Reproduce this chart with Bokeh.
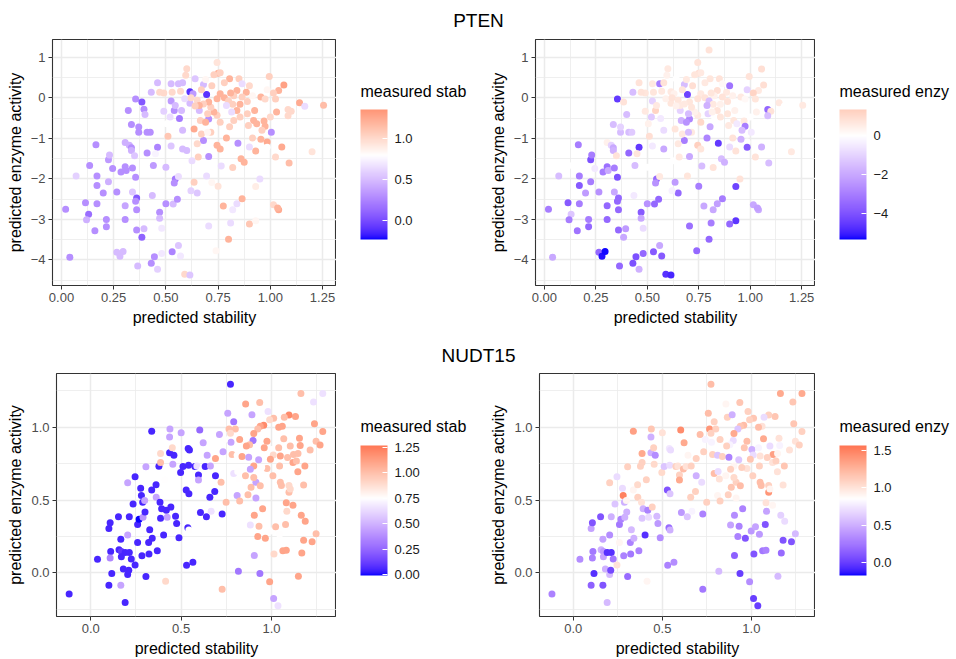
from bokeh.plotting import figure
from bokeh.models import (ColumnDataSource, LinearColorMapper, ColorBar, FixedTicker, Range1d)
from bokeh.layouts import column, row
from bokeh.embed import file_html
from bokeh.resources import INLINE
from bokeh.core.properties import value

FONT = "Liberation Sans"

gene_titles = ["PTEN", "NUDT15"]
x_label = "predicted stability"
y_label = "predicted enzyme activity"
stab_title = "measured stab"
enz_title = "measured enzy"

# ---------------- PTEN ----------------
pten_pred_stab = [
    0.02, 0.04, 0.07, 0.115, 0.13, 0.12, 0.135, 0.165, 0.17, 0.17,
    0.17, 0.16, 0.20, 0.215, 0.215, 0.225, 0.225, 0.23, 0.245, 0.265,
    0.265, 0.28, 0.295, 0.285, 0.305, 0.305, 0.31, 0.305, 0.305, 0.32,
    0.325, 0.335, 0.335, 0.335, 0.34, 0.34, 0.35, 0.355, 0.355, 0.36,
    0.355, 0.36, 0.36, 0.365, 0.37, 0.37, 0.385, 0.385, 0.395, 0.395,
    0.40, 0.41, 0.41, 0.425, 0.43, 0.43, 0.435, 0.445, 0.44, 0.46,
    0.46, 0.47, 0.47, 0.46, 0.48, 0.48, 0.49, 0.50, 0.50, 0.51,
    0.525, 0.525, 0.525, 0.535, 0.53, 0.545, 0.54, 0.555, 0.56, 0.56,
    0.56, 0.57, 0.565, 0.58, 0.59, 0.615, 0.60, 0.595, 0.57, 0.615,
    0.64, 0.635, 0.63, 0.68, 0.695, 0.68, 0.705, 0.705, 0.65, 0.635,
    0.65, 0.62, 0.625, 0.655, 0.695, 0.705, 0.72, 0.75, 0.74, 0.765,
    0.775, 0.80, 0.81, 0.82, 0.84, 0.865, 0.82, 0.845, 0.86, 0.875,
    0.90, 0.93, 0.93, 0.93, 0.95, 0.90, 0.985, 0.985, 1.005, 1.015,
    1.04, 1.035, 1.025, 1.055, 1.09, 1.20, 1.255, 1.14, 1.165, 1.065,
    1.04, 1.085, 1.10, 1.085, 1.03, 0.995, 0.985, 1.015, 1.025, 0.955,
    0.975, 0.97, 0.975, 1.00, 0.96, 0.92, 0.925, 0.935, 0.895, 0.915,
    0.955, 0.89, 0.89, 0.915, 0.90, 0.885, 0.865, 0.85, 0.865, 0.84,
    0.825, 0.81, 0.805, 0.78, 0.75, 0.745, 0.76, 0.73, 0.76, 0.78,
    0.80, 0.82, 0.84, 0.855, 0.855, 0.825, 0.805, 0.79, 0.76, 0.745,
    0.73, 0.715, 0.70, 0.705, 0.745, 0.68, 0.66, 0.665, 0.69, 0.715,
    0.745, 0.76, 0.67, 0.70, 0.615, 0.59, 0.575, 0.54, 0.545, 0.49,
    0.47, 0.53, 0.58, 0.65, 0.66, 0.795, 0.815, 0.79, 0.60, 0.58,
    0.45, 0.52, 0.505, 0.80, 1.055, 0.62, 0.64, 0.67, 0.72, 0.69,
]
pten_pred_enz = [
    -2.75, -3.93, -1.93, -2.59, -2.87, -3.01, -1.67, -1.16, -1.93, -2.16,
    -2.61, -3.28, -2.35, -3.0, -3.18, -2.07, -1.53, -1.41, -1.74, -2.32,
    -3.81, -3.91, -3.79, -1.83, -1.10, -1.70, -1.79, -2.66, -3.0, -0.31,
    -1.17, -1.23, -1.30, -0.66, -1.73, -2.32, -1.43, -0.03, -1.96, -2.47,
    -2.55, -2.76, -3.26, -4.15, -0.85, -0.72, -0.10, -3.44, -3.23, -0.28,
    -0.41, -1.36, -0.85, -0.85, 0.14, -4.08, -2.41, -3.92, -1.67, -1.22,
    0.37, -2.82, -2.97, -4.23, -3.22, -3.84, -0.33, -1.71, -2.61, -0.95,
    -1.19, -0.08, 0.35, -2.62, -3.80, -2.0, -2.10, -2.50, -1.94, 0.35,
    -3.64, -3.90, -0.51, -0.80, -4.35, -4.37, 0.72, 0.56, 0.16, 0.15,
    0.47, -0.77, 0.10, 0.33, 0.08, -1.05, -1.45, -0.52, -1.13, -2.08,
    -2.35, -2.29, -1.55, -1.46, -1.93, -3.16, -2.09, -2.18, -3.77, -1.68,
    -2.67, -3.49, -3.09, -2.76, -2.61, -2.49, -1.72, -1.12, -1.50, -1.59,
    -3.11, -3.03, -2.19, -1.31, -2.0, -1.21, -1.09, -1.22, -0.85, -2.64,
    -2.76, -2.72, -1.46, -1.21, -1.61, -1.33, -0.18, -0.12, -0.21, 0.32,
    0.18, -0.29, -0.33, -0.44, -0.35, 0.53, 0.20, 0.12, -0.03, 0.02,
    -0.03, -0.57, -0.70, -0.47, -0.80, -0.56, -0.31, -0.64, -0.68, -0.99,
    -1.02, -0.39, -0.09, 0.05, 0.30, 0.14, 0.02, 0.47, 0.35, 0.18,
    0.05, 0.12, 0.47, 0.37, 0.61, 0.87, 0.62, 0.57, 0.10, 0.0,
    -0.08, -0.16, -0.31, -0.16, -0.47, -0.56, -0.71, -0.99, -0.60, -0.43,
    -0.35, -0.23, -0.39, -0.10, -0.02, -0.15, -0.31, -0.56, -0.60, -0.85,
    -1.17, -1.26, -0.89, -0.85, -0.13, -0.02, -0.31, -0.31, -0.19, 0.12,
    0.14, 0.14, 0.37, -0.06, -0.19, -0.39, -0.35, -0.19, -1.30, -1.26,
    -1.38, -0.47, -0.64, 1.18, 0.71, 0.0, -0.20, 0.20, 0.30, 0.45,
]
pten_meas_stab = [
    0.30, 0.30, 0.60, 0.30, 0.15, 0.45, 0.30, 0.30, 0.30, 0.30,
    0.30, 0.30, 0.30, 0.30, 0.30, 0.45, 0.35, 0.50, 0.30, 0.30,
    0.50, 0.50, 0.50, 0.30, 0.45, 0.30, 0.30, 0.40, 0.30, 0.30,
    0.45, 0.30, 0.45, 0.30, 0.30, 0.55, 0.55, 0.30, 0.30, 0.05,
    0.30, 0.30, 0.30, 0.50, 0.30, 0.30, 0.05, 0.10, 0.50, 0.30,
    0.50, 0.30, 0.30, 0.30, 0.50, 0.30, 0.50, 0.30, 0.35, 0.25,
    0.50, 0.30, 0.50, 0.60, 0.70, 0.70, 0.60, 0.50, 0.30, 1.10,
    0.55, 0.35, 0.50, 0.50, 0.25, 0.20, 0.30, 0.30, 0.65, 0.50,
    0.55, 0.70, 0.20, 0.50, 1.00, 0.55, 1.00, 1.00, 1.00, -0.10,
    0.55, 1.25, 0.35, 0.50, -0.10, 0.30, 0.30, 0.30, 1.00, 1.05,
    0.55, 0.60, 0.65, 1.05, 0.65, 0.65, 0.85, 0.95, 0.85, 0.65,
    1.20, 1.20, 0.65, 0.70, 0.65, 1.20, 1.05, 0.30, 1.20, 1.20,
    1.10, 0.85, 0.90, 1.20, 0.65, 0.65, 1.25, 0.80, 0.30, 1.00,
    1.25, 1.20, 1.00, 1.25, 1.15, 0.95, 1.15, 1.25, 0.65, 1.30,
    1.20, 1.00, 1.00, 1.00, 1.20, 1.05, 0.85, 1.05, 1.05, 1.20,
    1.00, 1.20, 1.20, 1.00, 1.05, 1.20, 1.20, 1.20, 1.05, 1.05,
    1.20, 1.05, 1.05, 0.85, 1.00, 1.20, 1.05, 1.05, 0.65, 1.20,
    1.05, 1.20, 1.20, 1.05, 1.20, 0.95, 1.05, 1.05, 1.20, 1.20,
    1.05, 1.05, 1.20, 1.20, 1.05, 1.05, 1.05, 1.20, 1.05, 1.05,
    1.20, 1.05, 1.05, 1.20, 1.20, 1.05, 0.50, 1.05, 1.20, 1.05,
    1.20, 1.20, 1.05, 0.85, 0.50, 0.65, 0.50, 0.30, 0.50, 1.00,
    1.00, 1.00, 0.50, 1.00, 1.20, 0.80, 0.65, 0.65, 0.50, 0.50,
    0.75, 0.65, 0.80, 0.80, 0.80, 1.00, 1.05, 1.05, 1.05, 0.85,
]
pten_meas_enz = [
    -3.0, -2.0, -1.5, -3.8, -1.3, -3.0, 0.0, -3.0, -3.0, -3.8,
    -3.0, -3.2, -2.3, -3.0, -3.5, -3.0, -4.0, -3.0, -0.5, -2.5,
    -3.5, -5.2, -5.3, -3.0, 0.4, -3.3, -2.0, -3.5, -3.5, 0.0,
    -1.0, -2.0, -1.8, -1.5, -3.0, -2.0, 0.8, -4.5, -4.0, -3.5,
    -3.5, -3.5, -3.5, -3.5, -1.5, -1.0, 0.8, -2.0, -2.3, 0.0,
    -1.5, -3.5, -1.5, -1.2, -1.5, -4.0, -0.5, -4.0, -1.5, -4.5,
    0.8, -3.8, -2.0, -1.8, -0.8, -3.5, 0.6, 0.0, -2.5, 0.9,
    -0.5, -1.0, 0.6, -3.5, -3.8, -3.5, -2.5, -3.5, 0.6, -3.0,
    -2.0, -3.8, -0.5, -0.8, -4.7, -4.9, 0.6, 0.4, 0.6, 0.6,
    0.0, 0.7, 0.4, -1.5, -4.3, -3.0, -2.0, -2.8, 0.6, -2.3,
    -3.5, -0.3, 0.0, 0.6, 0.7, -3.3, 0.0, -3.0, -3.5, -1.5,
    -2.0, -3.5, -3.0, -2.0, -2.2, -3.0, 0.8, -4.5, -1.5, -1.8,
    -3.5, -4.6, -4.3, 0.8, 0.8, -0.8, 0.0, -3.8, -0.5, -2.0,
    -2.0, -2.2, 0.8, -1.8, -1.5, 0.6, 0.6, 0.6, 0.0, 0.9,
    0.6, -3.5, 0.8, -1.5, 0.4, 0.8, -1.0, 1.2, 0.7, 0.6,
    0.2, 0.6, -3.0, 0.0, -1.5, 0.7, 0.4, -0.5, 0.6, 0.8,
    -1.8, 0.7, 0.8, 0.4, -3.2, 0.6, 0.8, 0.8, 0.2, 0.9,
    0.4, 0.7, 0.7, 0.6, 0.9, 0.8, 0.6, 0.7, 0.6, 0.8,
    -1.5, 0.6, 0.8, 0.4, 0.7, 0.0, -2.0, -2.8, 1.1, 0.6,
    0.4, 0.7, -1.5, 0.7, 0.8, 0.6, -1.0, -1.8, -2.5, 0.6,
    1.3, 0.7, 0.6, -1.5, 0.7, 0.4, 0.0, 1.2, 0.6, 0.7,
    0.8, 0.7, 0.8, 0.7, 0.6, -1.0, 0.4, -1.8, 0.0, -2.0,
    0.7, -1.2, 0.4, 0.8, 0.9, 0.8, 0.4, 0.7, 0.9, 0.6,
]

# ---------------- NUDT15 ----------------
nudt_pred_stab = [
    -0.12, 0.037, 0.10, 0.107, 0.11, 0.107, 0.116, 0.10, 0.153, 0.166,
    0.156, 0.169, 0.169, 0.166, 0.19, 0.19, 0.204, 0.204, 0.213, 0.213,
    0.224, 0.18, 0.204, 0.21, 0.234, 0.245, 0.245, 0.259, 0.259, 0.267,
    0.276, 0.28, 0.283, 0.287, 0.289, 0.30, 0.298, 0.305, 0.305, 0.322,
    0.326, 0.32, 0.337, 0.34, 0.337, 0.361, 0.362, 0.368, 0.377, 0.383,
    0.386, 0.386, 0.386, 0.392, 0.403, 0.418, 0.414, 0.41, 0.423, 0.436,
    0.443, 0.438, 0.436, 0.454, 0.46, 0.451, 0.469, 0.475, 0.488, 0.497,
    0.50, 0.51, 0.528, 0.53, 0.543, 0.537, 0.543, 0.541, 0.539, 0.546,
    0.565, 0.576, 0.596, 0.587, 0.596, 0.603, 0.607, 0.622, 0.618, 0.633,
    0.64, 0.644, 0.659, 0.662, 0.666, 0.686, 0.69, 0.69, 0.712, 0.721,
    0.727, 0.727, 0.732, 0.749, 0.758, 0.765, 0.773, 0.791, 0.776, 0.791,
    0.782, 0.80, 0.81, 0.813, 0.81, 0.817, 0.824, 0.837, 0.857, 0.865,
    0.874, 0.87, 0.883, 0.887, 0.892, 0.898, 0.905, 0.905, 0.914, 0.914,
    0.929, 0.924, 0.931, 0.935, 0.936, 0.951, 0.966, 0.975, 0.99, 0.999,
    1.008, 1.014, 1.012, 1.036, 1.023, 1.063, 1.082, 1.078, 1.085, 1.082,
    1.119, 1.097, 1.097, 1.146, 1.149, 1.165, 1.168, 1.178, 1.187, 1.225,
    1.247, 1.178, 1.185, 1.163, 1.233, 1.284, 1.238, 1.284, 1.247, 1.269,
    1.214, 1.133, 1.097, 1.071, 1.06, 1.04, 1.012, 0.99, 0.981, 0.957,
    0.938, 0.924, 0.902, 0.879, 0.861, 0.824, 0.975, 1.003, 0.96, 1.04,
    1.068, 1.104, 1.155, 1.159, 1.122, 1.089, 1.049, 1.01, 0.994, 0.902,
    0.946, 1.045, 1.119, 1.138, 1.147, 0.902, 0.938, 1.049, 1.055, 1.104,
    0.856, 0.82, 0.883, 0.773, 0.741, 1.045,
]
nudt_pred_enz = [
    -0.145, 0.093, 0.305, 0.344, 0.147, 0.102, -0.005, -0.086, 0.385, 0.231,
    0.158, 0.147, 0.111, -0.086, -0.204, 0.14, 0.26, 0.62, 0.385, 0.14,
    0.095, 0.027, -0.011, 0.018, 0.473, 0.661, 0.054, 0.208, 0.333, 0.369,
    0.581, 0.532, 0.118, 0.486, 0.382, 0.419, 0.498, 0.729, -0.025, 0.129,
    0.296, 0.208, 0.57, 0.238, 0.973, 0.606, 0.52, 0.152, 0.733, 0.486,
    0.758, 0.821, 0.376, 0.441, 0.26, 0.43, -0.057, 0.64, 0.382, 0.826,
    0.452, 0.989, 0.934, 0.747, 0.808, 0.86, 0.389, 0.339, 0.242, 0.69,
    0.962, 0.731, 0.57, 0.052, 0.543, 0.31, 0.294, 0.74, 0.855, 0.844,
    0.072, 0.731, 0.672, 0.735, 0.638, 0.982, 0.414, 0.894, 0.713, 0.731,
    0.385, 0.808, 0.52, 0.735, 0.423, 0.559, 0.667, 0.785, 0.95, 0.622,
    0.405, -0.113, 0.833, 0.486, 1.097, 0.989, 1.296, 1.038, 0.898, 0.683,
    0.814, 0.989, 0.808, 0.697, 0.532, 0.011, 0.493, 0.799, 1.161, 1.07,
    0.794, 0.536, 0.328, 0.588, 1.086, 0.909, 0.396, 0.12, 0.622, 0.514,
    0.778, 0.249, 0.321, 1.17, -0.005, 0.441, 0.238, 0.717, -0.061, 0.287,
    0.667, 0.129, -0.176, -0.226, 0.317, 0.152, 0.156, 0.333, 0.423, 0.482,
    0.464, 0.554, 0.60, 0.695, -0.023, 0.396, 0.136, 0.224, 0.355, 0.213,
    0.269, 0.604, 0.735, 1.233, 1.174, 1.233, 1.025, 0.971, 0.905, 0.878,
    0.844, 1.075, 1.084, 1.07, 1.007, 1.00, 1.063, 1.052, 1.109, 1.014,
    1.007, 0.989, 0.957, 0.88, 0.871, 0.916, 0.905, 0.848, 0.86, 0.86,
    0.921, 0.871, 0.925, 0.876, 0.814, 0.792, 0.803, 0.81, 0.78, 0.735,
    0.724, 0.735, 0.758, 0.769, 0.82, 0.655, 0.599, 0.622, 0.60, 0.577,
    0.667, 0.645, 0.712, 0.959, 0.916, 0.265,
]
nudt_meas_stab = [
    0.05, 0.05, 0.05, 0.05, 0.05, 0.35, 0.05, 0.05, 0.05, 0.05,
    0.05, 0.10, 0.05, 0.45, 0.05, 0.05, 0.45, 0.45, 0.05, 0.05,
    0.05, 0.05, 0.05, 0.05, 0.05, 0.05, 0.05, 0.05, 0.05, -0.01,
    0.05, 0.05, 0.05, 0.05, 0.40, 0.05, 0.45, 0.45, 0.05, 0.05,
    0.05, 0.05, 0.05, 0.05, 0.05, 0.05, 0.45, 0.05, 0.05, 0.05,
    1.00, 0.90, 0.05, 0.05, 0.05, 0.05, 0.90, 0.75, 0.45, 0.05,
    0.05, 0.45, 0.45, 0.45, 0.05, 0.90, 0.05, 0.05, 0.05, 0.05,
    0.45, 0.05, 0.05, 0.05, 0.05, 0.05, 0.75, 0.05, 0.05, 0.05,
    0.05, 0.05, 0.05, 0.65, 0.45, 0.25, 0.05, 0.45, 0.75, 0.05,
    0.05, 0.45, 0.05, 0.45, 0.65, 0.05, 0.05, 1.10, 0.45, 1.00,
    0.05, 1.00, 0.45, 1.00, 0.45, 1.00, 0.05, 0.30, 0.45, 0.65,
    1.00, 1.00, 0.75, 0.75, 0.45, 0.30, 1.00, 1.10, 1.10, 0.75,
    0.45, 1.00, 0.65, 1.00, 0.45, 0.30, 1.10, 0.45, 0.45, 0.45,
    0.45, 1.10, 1.00, 1.00, 0.30, 1.10, 1.10, 1.00, 1.10, 0.75,
    1.00, 0.90, 0.45, 0.65, 1.00, 1.10, 1.10, 1.00, 0.90, 1.10,
    1.10, 1.00, 0.90, 1.10, 1.10, 1.10, 1.10, 1.10, 1.10, 1.10,
    1.00, 1.00, 1.10, 1.00, 0.65, 0.65, 1.10, 1.10, 1.00, 1.10,
    1.00, 1.10, 1.20, 1.00, 1.10, 1.10, 1.00, 0.90, 0.65, 1.20,
    1.10, 1.00, 1.10, 1.00, 1.10, 1.10, 1.10, 0.75, 1.10, 1.00,
    1.00, 1.00, 1.10, 1.10, 1.00, 1.00, 1.10, 0.90, 1.10, 1.10,
    0.75, 1.00, 1.10, 1.00, 1.00, 1.00, 1.00, 1.00, 1.00, 0.90,
    1.00, 0.75, 0.45, 0.90, 0.75, 0.75,
]
nudt_meas_enz = [
    0.30, 0.35, 0.45, 0.10, 0.25, 0.30, -0.05, 0.15, 0.10, 0.45,
    0.50, 0.40, 0.45, 0.10, 0.55, -0.05, 0.35, 1.10, 0.50, -0.05,
    0.25, 0.50, 0.55, 0.05, 0.60, 0.70, 1.00, 0.90, 0.25, 0.30,
    0.70, 1.50, 0.30, 0.50, 0.50, 0.50, 0.90, 1.10, 0.20, 0.25,
    0.55, 0.30, 0.90, 0.50, 1.35, 1.05, 1.10, 0.30, 1.10, 1.00,
    1.10, 1.30, 0.60, 0.50, -0.05, 0.30, 0.90, 1.10, 0.70, 0.50,
    1.10, 1.15, 0.50, 1.05, 0.35, 1.10, 0.55, 0.40, 0.35, 1.05,
    1.00, 0.60, 0.10, 0.30, 0.60, 0.20, 0.50, 0.70, 0.75, 0.70,
    0.35, 1.10, 1.10, 1.00, 1.30, 1.45, 0.40, 1.30, 1.20, 1.00,
    0.60, 0.90, 1.10, 1.10, 0.80, 1.10, 0.50, 1.10, 1.20, 0.70,
    0.30, 0.25, 1.10, 1.10, 1.20, 1.40, 1.20, 1.10, 0.80, 1.20,
    1.10, 1.10, 0.60, 0.70, 0.90, 0.55, 1.10, 1.10, 0.90, 1.10,
    0.30, 1.10, 0.45, 1.15, 0.50, 0.70, 0.35, 0.15, 1.10, 0.90,
    0.60, 0.30, 0.30, 1.15, 0.00, 0.30, 0.10, 1.00, 0.35, 0.40,
    1.10, 0.10, 0.00, 0.00, 0.45, 0.25, 0.30, 0.10, 0.45, 1.00,
    0.90, 1.40, 1.10, 1.00, 0.55, 0.65, 0.20, 0.10, 0.70, 0.10,
    0.55, 1.00, 1.15, 1.30, 1.15, 1.30, 1.15, 1.10, 1.00, 1.10,
    1.00, 1.15, 1.10, 0.70, 1.00, 1.20, 1.15, 1.10, 1.10, 1.20,
    1.15, 0.60, 1.30, 0.80, 1.10, 1.10, 1.20, 0.50, 1.15, 0.80,
    1.30, 0.70, 1.00, 0.80, 1.35, 1.10, 1.00, 0.70, 1.15, 0.90,
    1.10, 1.10, 1.00, 1.10, 0.90, 1.05, 1.20, 1.20, 1.20, 0.90,
    0.90, 1.00, 1.10, 1.10, 0.80, 0.40,
]

# colour-scale limits (low, mid, high) read from the legends
pten_stab_scale = (-0.23, 0.80, 1.36)
pten_enz_scale = (-5.33, 0.0, 1.35)
nudt_stab_scale = (-0.01, 0.75, 1.27)
nudt_enz_scale = (-0.17, 0.85, 1.56)

pten_stab_ticks = [0.0, 0.5, 1.0]
pten_stab_labels = ["0.0", "0.5", "1.0"]
pten_enz_ticks = [-4, -2, 0]
pten_enz_labels = ["\u22124", "\u22122", "0"]
nudt_stab_ticks = [0.0, 0.25, 0.5, 0.75, 1.0, 1.25]
nudt_stab_labels = ["0.00", "0.25", "0.50", "0.75", "1.00", "1.25"]
nudt_enz_ticks = [0.0, 0.5, 1.0, 1.5]
nudt_enz_labels = ["0.0", "0.5", "1.0", "1.5"]

pten_x_ticks = [0.0, 0.25, 0.5, 0.75, 1.0, 1.25]
pten_x_labels = ["0.00", "0.25", "0.50", "0.75", "1.00", "1.25"]
pten_y_ticks = [-4, -3, -2, -1, 0, 1]
pten_y_labels = ["\u22124", "\u22123", "\u22122", "\u22121", "0", "1"]
nudt_x_ticks = [0.0, 0.5, 1.0]
nudt_x_labels = ["0.0", "0.5", "1.0"]
nudt_y_ticks = [0.0, 0.5, 1.0]
nudt_y_labels = ["0.0", "0.5", "1.0"]


# ---------- colour helpers (Lab interpolation like ggplot2) ----------
def _lin(c):
    c = c / 255.0
    return c / 12.92 if c <= 0.04045 else ((c + 0.055) / 1.055) ** 2.4


def _gam(c):
    c = 12.92 * c if c <= 0.0031308 else 1.055 * (c ** (1 / 2.4)) - 0.055
    return max(0, min(255, int(round(c * 255))))


def rgb_to_lab(rgb):
    r, g, b = (_lin(v) for v in rgb)
    X = 0.4124 * r + 0.3576 * g + 0.1805 * b
    Y = 0.2126 * r + 0.7152 * g + 0.0722 * b
    Z = 0.0193 * r + 0.1192 * g + 0.9505 * b
    d = 6 / 29

    def f(t):
        return t ** (1 / 3) if t > d ** 3 else t / (3 * d * d) + 4 / 29
    fx, fy, fz = f(X / 0.95047), f(Y / 1.0), f(Z / 1.08883)
    return (116 * fy - 16, 500 * (fx - fy), 200 * (fy - fz))


def lab_to_hex(lab):
    L, a, b = lab
    d = 6 / 29
    fy = (L + 16) / 116
    fx = fy + a / 500
    fz = fy - b / 200

    def finv(t):
        return t ** 3 if t > d else 3 * d * d * (t - 4 / 29)
    X, Y, Z = 0.95047 * finv(fx), finv(fy), 1.08883 * finv(fz)
    r = 3.2406 * X - 1.5372 * Y - 0.4986 * Z
    g = -0.9689 * X + 1.8758 * Y + 0.0415 * Z
    bb = 0.0557 * X - 0.2040 * Y + 1.0570 * Z
    return "#%02x%02x%02x" % (_gam(max(r, 0)), _gam(max(g, 0)), _gam(max(bb, 0)))


LOW_LAB = rgb_to_lab((0, 0, 255))
MID_LAB = rgb_to_lab((255, 255, 255))
HIGH_LAB = rgb_to_lab((255, 0, 0))


def gradient2_palette(scale, n=256):
    lo, mid, hi = scale
    span = max(abs(lo - mid), abs(hi - mid))
    pal = []
    for i in range(n):
        v = lo + (i + 0.5) * (hi - lo) / n
        t = min(1.0, max(0.0, 0.5 + (v - mid) / (2 * span)))
        if t < 0.5:
            u = t / 0.5
            c0, c1 = LOW_LAB, MID_LAB
        else:
            u = (t - 0.5) / 0.5
            c0, c1 = MID_LAB, HIGH_LAB
        pal.append(lab_to_hex(tuple(c0[k] + (c1[k] - c0[k]) * u for k in range(3))))
    return pal


def minor_between(ticks, lo, hi):
    step = ticks[1] - ticks[0]
    out = []
    m = ticks[0] - step / 2
    while m <= hi:
        if m >= lo:
            out.append(m)
        m += step
    return out


CB_GAP = 24      # gap between panel border and colour bar
CB_H = 130
CB_W = 27


def panel(xs, ys, cs, xr, yr, xt, xl, yt, yl, scale, cbt, cbl, cbtitle,
          width, height, bl, leg_w, bt, bb, cb_bottom, title_y):
    p = figure(width=width - leg_w, height=height, x_range=Range1d(*xr), y_range=Range1d(*yr),
               output_backend="svg", toolbar_location=None,
               min_border_left=bl, min_border_right=0, min_border_top=bt, min_border_bottom=bb)
    p.background_fill_color = "white"
    p.border_fill_color = "white"
    p.outline_line_color = "#333333"
    p.outline_line_width = 1.1

    p.xaxis.ticker = FixedTicker(ticks=xt, minor_ticks=minor_between(xt, xr[0], xr[1]))
    p.yaxis.ticker = FixedTicker(ticks=yt, minor_ticks=minor_between(yt, yr[0], yr[1]))
    p.xaxis.major_label_overrides = {t: s for t, s in zip(xt, xl)}
    p.yaxis.major_label_overrides = {t: s for t, s in zip(yt, yl)}
    for ax in (p.xaxis[0], p.yaxis[0]):
        ax.axis_line_color = None
        ax.major_tick_line_color = "#333333"
        ax.major_tick_line_width = 1
        ax.major_tick_in = 0
        ax.major_tick_out = 4
        ax.minor_tick_line_color = None
        ax.major_label_text_font = FONT
        ax.major_label_text_font_size = "13px"
        ax.major_label_text_color = "#4D4D4D"
        ax.major_label_standoff = 3
        ax.axis_label_text_font = FONT
        ax.axis_label_text_font_size = "16px"
        ax.axis_label_text_font_style = "normal"
        ax.axis_label_text_color = "black"
        ax.axis_label_standoff = 4
    p.xaxis.axis_label = x_label
    p.yaxis.axis_label = y_label

    for g in (p.xgrid[0], p.ygrid[0]):
        g.grid_line_color = "#EBEBEB"
        g.grid_line_width = 1.5
        g.minor_grid_line_color = "#EBEBEB"
        g.minor_grid_line_width = 0.8

    pal = gradient2_palette(scale)
    mapper = LinearColorMapper(palette=pal, low=scale[0], high=scale[2])
    src = ColumnDataSource(dict(x=xs, y=ys, c=cs))
    p.scatter("x", "y", source=src, size=7, marker="circle",
              fill_color={"field": "c", "transform": mapper}, line_color=None)

    # legend (colour bar + its title) in its own small figure
    lg = figure(width=leg_w, height=height, x_range=Range1d(0, leg_w), y_range=Range1d(0, height),
                output_backend="svg", toolbar_location=None, min_border=0,
                x_axis_type=None, y_axis_type=None)
    lg.grid.visible = False
    lg.outline_line_color = None
    lg.background_fill_color = "white"
    lg.border_fill_color = "white"
    cb = ColorBar(color_mapper=mapper, ticker=FixedTicker(ticks=cbt),
                  major_label_overrides={t: s for t, s in zip(cbt, cbl)},
                  width=CB_W, height=CB_H,
                  major_label_text_font=FONT, major_label_text_font_size="13px",
                  major_label_text_color="#1A1A1A", label_standoff=7,
                  major_tick_line_color="white", major_tick_in=5, major_tick_out=0,
                  minor_tick_line_color=None, bar_line_color=None,
                  border_line_color=None, background_fill_alpha=0,
                  margin=0, padding=0, location=(CB_GAP, cb_bottom))
    lg.add_layout(cb, "center")
    lg.text(x=[CB_GAP], y=[title_y], text=[cbtitle], text_align="left", text_baseline="middle",
            text_font=value(FONT), text_font_size="16px", text_color="black")
    return row(p, lg)


def title_fig(txt, h, yc):
    t = figure(width=956, height=h, x_range=Range1d(0, 956), y_range=Range1d(0, h),
               output_backend="svg", toolbar_location=None, min_border=0,
               x_axis_type=None, y_axis_type=None)
    t.grid.visible = False
    t.outline_line_color = None
    t.background_fill_color = "white"
    t.border_fill_color = "white"
    t.text(x=[478], y=[h - yc], text=[txt], text_align="center", text_baseline="middle",
           text_font=value(FONT), text_font_size="19px", text_color="black")
    return t


top_xr = (-0.043, 1.317)
top_yr = (-4.63, 1.44)
bot_xr = (-0.19, 1.36)
bot_yr = (-0.30, 1.37)

p1 = panel(pten_pred_stab, pten_pred_enz, pten_meas_stab, top_xr, top_yr,
           pten_x_ticks, pten_x_labels, pten_y_ticks, pten_y_labels,
           pten_stab_scale, pten_stab_ticks, pten_stab_labels, stab_title,
           478, 300, 52, 142, 9, 45, 46, 236)
p2 = panel(pten_pred_stab, pten_pred_enz, pten_meas_enz, top_xr, top_yr,
           pten_x_ticks, pten_x_labels, pten_y_ticks, pten_y_labels,
           pten_enz_scale, pten_enz_ticks, pten_enz_labels, enz_title,
           478, 300, 57, 141, 9, 45, 46, 236)
p3 = panel(nudt_pred_stab, nudt_pred_enz, nudt_meas_stab, bot_xr, bot_yr,
           nudt_x_ticks, nudt_x_labels, nudt_y_ticks, nudt_y_labels,
           nudt_stab_scale, nudt_stab_ticks, nudt_stab_labels, stab_title,
           478, 294, 56, 142, 8, 40, 41, 230)
p4 = panel(nudt_pred_stab, nudt_pred_enz, nudt_meas_enz, bot_xr, bot_yr,
           nudt_x_ticks, nudt_x_labels, nudt_y_ticks, nudt_y_labels,
           nudt_enz_scale, nudt_enz_ticks, nudt_enz_labels, enz_title,
           478, 294, 61, 141, 8, 40, 41, 230)

t1 = title_fig(gene_titles[0], 30, 20)
t2 = title_fig(gene_titles[1], 35, 25)

layout = column(t1, row(p1, p2), t2, row(p3, p4))
open("out.html", "w").write(file_html(layout, INLINE))
